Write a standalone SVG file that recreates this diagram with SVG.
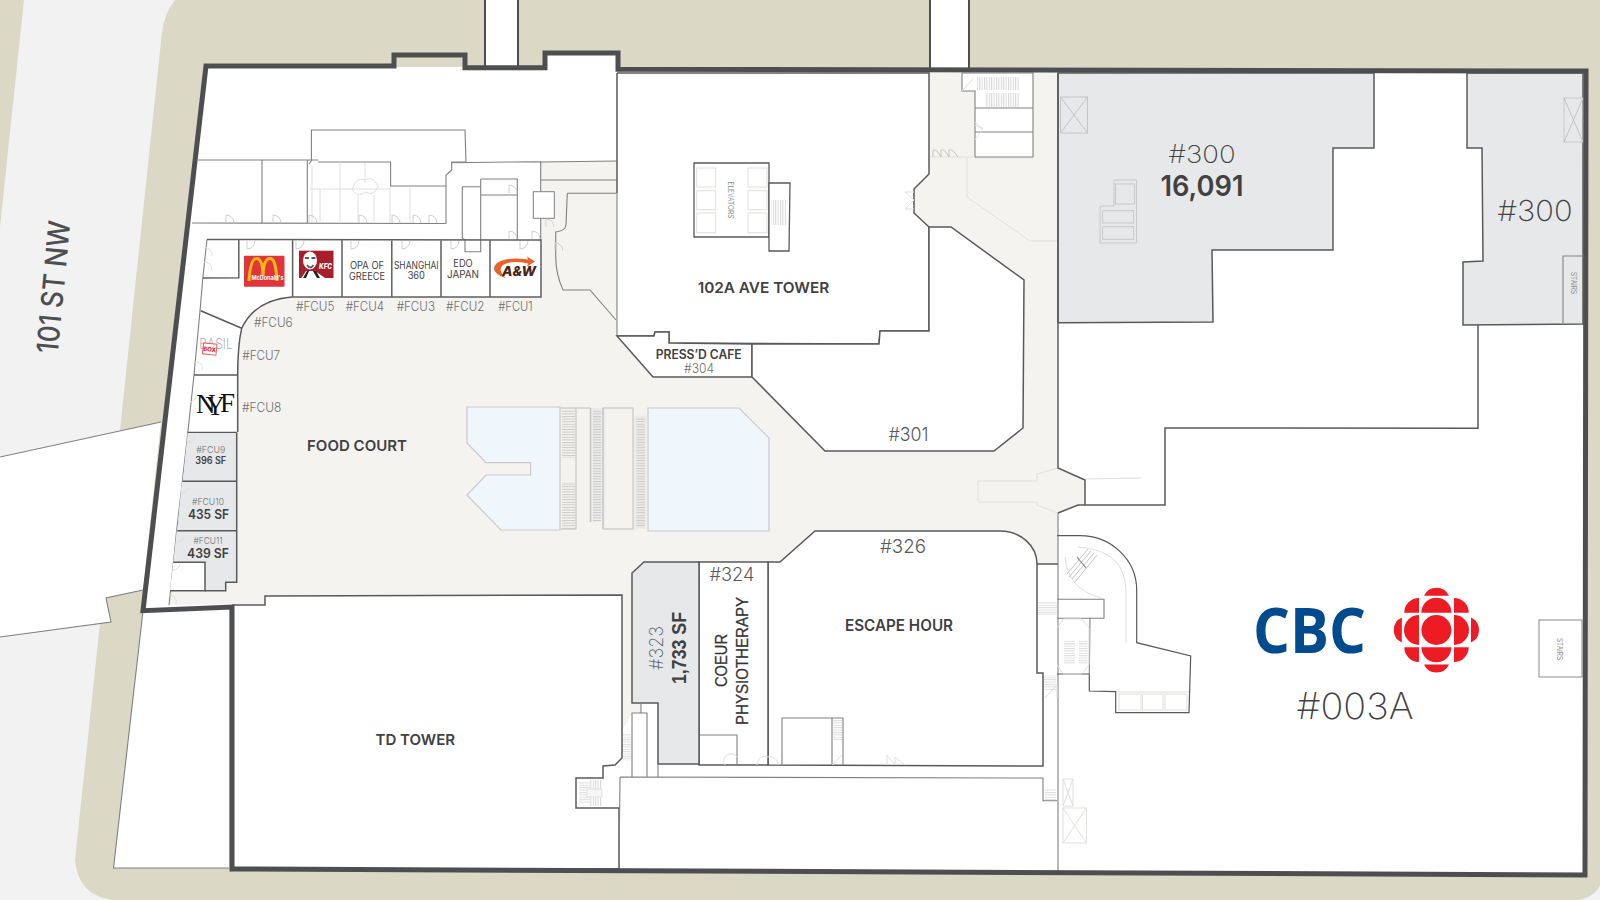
<svg xmlns="http://www.w3.org/2000/svg" width="1600" height="900" viewBox="0 0 1600 900">
<style>
.wall{fill:none;stroke:#58595b;stroke-width:1.5;stroke-linejoin:miter}
.room{fill:#fff;stroke:#58595b;stroke-width:1.5}
.thin{fill:none;stroke:#7f8082;stroke-width:1.1}
.lite{fill:none;stroke:#dfdfdc;stroke-width:1}
.mid{fill:none;stroke:#c4c4c4;stroke-width:1}
.lease{fill:#e7e8ea;stroke:#58595b;stroke-width:1.5}
.outer{fill:none;stroke:#4d4e50;stroke-width:5;stroke-linejoin:miter}
.pool{fill:#eff7fd;stroke:#c9c9c9;stroke-width:1.2}
text{font-family:"Inter","Liberation Sans",sans-serif;text-anchor:middle;fill:#4d4e50}
.name{font-weight:600;font-size:15px;fill:#414042}
.num{font-weight:200;fill:#414042}
.fcu{font-weight:300;font-size:13px;fill:#6d6e71}
.fcus{font-weight:300;font-size:9.5px;fill:#6d6e71}
.tiny{font-weight:400;font-size:10px;fill:#414042}
.sf{font-weight:600;fill:#414042}
.small{font-weight:400;font-size:7px;fill:#8a8a8a}
.gem{fill:#ed1c24}
.rot{font-family:"Liberation Sans",sans-serif;font-size:16px;fill:#333;stroke:#333;stroke-width:.25}
</style>
<defs>
<pattern id="hh" width="3" height="2.6" patternUnits="userSpaceOnUse"><rect width="3" height="1" fill="#c9c9c9"/></pattern>
<pattern id="hl" width="3" height="2.4" patternUnits="userSpaceOnUse"><rect width="3" height="1" fill="#dcdcdc"/></pattern>
<pattern id="vl" width="2.4" height="3" patternUnits="userSpaceOnUse"><rect width="1" height="3" fill="#d6d6d6"/></pattern>
<path id="dup" d="M0 0V-8A8 8 0 0 1 8 0" fill="none" stroke="#cfcfcf" stroke-width="1"/>
<path id="ddn" d="M0 0V8A8 8 0 0 0 8 0" fill="none" stroke="#cfcfcf" stroke-width="1"/>
</defs>

<g id="site">
<rect width="1600" height="900" fill="#f2f2f3"/>
<path d="M175 0H1600V885Q1595 897 1578 900H112Q78 895 75 860L100 623L120 430L162 32Q165 12 175 0Z" fill="#dbd8c6"/>
<path d="M0 0H24L0 227Z" fill="#dbd8c6"/>
<path d="M0 457L161 422L143 590L106 598L111 622L0 637Z" fill="#fff"/>
<path d="M0 457L161 422M143 590L106 598L111 622L0 637" class="thin"/>
<path d="M143 611L113.500 868H229V609Z" fill="#fff"/>
<path d="M143 611L113.500 868H229" class="thin"/>
<rect x="485" y="0" width="33" height="68" fill="#fff"/>
<rect x="930" y="0" width="39" height="70" fill="#fff"/>
<path d="M485 0V68M518 0V68M930 0V70M969 0V70" fill="none" stroke="#4d4e50" stroke-width="2"/>
</g>

<g id="building-floor">
<path d="M206 66H394V67H465H545V53H618V69L1586 71L1585 875L232 869V607L143 611Z" fill="#fff"/>
<rect x="396" y="58" width="67" height="9" fill="#dbd8c6"/>
<path d="M292 297H540.700V162L616.700 161V336L653 377H752L825 451H994L1023 428L1024 280L951 227H929L914 213V189L929 174V73H1057V468L1085 480V505H1078L1058 513V564H1037A37 33 0 0 0 1000 531H815L780 562H644L632 573V713L622 731V595L265 596V604L169 605L170.600 590.700H225.700V582.300H236.700V375Q237.700 345 241.700 328.300Q255 300 292 297Z" fill="#f4f3ef"/>
<path d="M632 703H641V713H632Z" fill="#f4f3ef"/>
<path d="M567.300 193.300H616.700M567.300 193.300L566 225Q565 231 555.700 232V257Q556 275 563 290H590L616 320" class="thin"/>
<path d="M540.700 180H616.700" class="thin"/>
<path d="M540.700 162L616.700 161" class="thin"/>
</g>

<g id="atrium">
<path d="M467 407H560V530H501L467 495L486 475H530.600V462.700H486L467 443Z" class="pool"/>
<path d="M648 408H739L769 438V531H648Z" class="pool"/>
<path d="M560.700 408H576V529H560.700M576 408H590" fill="none" stroke="#cfcfcf" stroke-width="1.500"/>
<rect x="562" y="409" width="13" height="49" fill="url(#hh)"/>
<rect x="562" y="482" width="13" height="47" fill="url(#hh)"/>
<rect x="590" y="408" width="13.300" height="114" fill="#ececea"/>
<rect x="593" y="409" width="8" height="112" fill="url(#hh)"/>
<path d="M590.500 408V522M603 408V529" fill="none" stroke="#c4c4c4" stroke-width="1.500"/>
<rect x="603.500" y="408" width="29.500" height="121" fill="#f4f3ef" stroke="#cfcfcf" stroke-width="1.500"/>
<rect x="634" y="415.700" width="13.300" height="113.300" fill="#ececea"/>
<rect x="636.500" y="417" width="8.500" height="111" fill="url(#hh)"/>
<path d="M978 481H1037V474L1058 468M978 481V502H1037V505L1058 513" class="lite"/>
<path d="M967 158V197L1030 241H1057" class="lite"/>
<path d="M1085 479L1141 478" class="lite"/>
</g>

<g id="tower-102a">
<path d="M617 73H929V174L914 189V213L929 227V331H880L879 344L669 343V332H655L654 336H617Z" fill="#fff"/>
<path d="M617 73H929V174L914 189V213L929 227V331H880L879 344L669 343V332H655L654 336H617" class="wall"/>
<path d="M617 73V193" class="wall"/>
<path d="M617 193V336" class="thin"/>
<path d="M694 163H769V237H694Z" class="room" style="stroke-width:1.300"/>
<path d="M769 183H790L789 251H769Z" class="room" style="stroke-width:1.300"/>
<g class="lite"><rect x="696.700" y="168" width="19" height="19"/><rect x="696.700" y="190.700" width="19" height="19"/><rect x="696.700" y="213" width="19" height="19.700"/><rect x="748" y="168" width="19" height="19"/><rect x="748" y="190.700" width="19" height="19"/><rect x="748" y="213" width="19" height="19.700"/></g>
<rect x="771" y="200" width="16" height="25" fill="url(#vl)"/>
<text class="small" transform="translate(727.500 200) rotate(90)" textLength="37" lengthAdjust="spacingAndGlyphs">ELEVATORS</text>
<path d="M905 192L914 200L905 209M905 192H914M905 209H914" class="lite"/>
<text class="name" x="763.500" y="293" textLength="131.700" lengthAdjust="spacingAndGlyphs">102A AVE TOWER</text>
</g>

<g id="unit-304">
<path d="M617 336H654L655 332H669V343L752 344V377H653Z" class="room"/>
<text class="name" style="font-size:12.500px" x="698.700" y="359" textLength="86" lengthAdjust="spacingAndGlyphs">PRESS’D CAFE</text>
<text style="font-size:13px;font-weight:300;fill:#6d6e71" x="699" y="372.700" textLength="30" lengthAdjust="spacingAndGlyphs">#304</text>
</g>

<g id="unit-301">
<path d="M752 344L879 344L880 331H929V227H951L1024 280L1023 428L994 451H825L752 377Z" class="room"/>
<text style="font-size:19px;font-weight:300;fill:#58595b" x="908.500" y="441" textLength="40" lengthAdjust="spacingAndGlyphs">#301</text>
</g>

<g id="core-north">
<path d="M975 73H1033V157H975V91H962V73Z" fill="#fff"/>
<path d="M975 73H1033V157H975V91H962V73Z" class="thin"/>
<path d="M975 108H1033M975 132H1033" class="thin"/>
<path d="M930 157H975" class="lite"/>
<rect x="977" y="77" width="42" height="13" fill="url(#vl)"/>
<rect x="985" y="93" width="34" height="14" fill="url(#vl)"/>
<path d="M962 91L973 79M975 122L983 129L975 140M975 125L983 129" class="lite"/>
<path d="M933 157V150Q936 148 941 157M941 157V150Q944 148 949 157M949 157V150Q952 148 958 157" class="mid"/>
</g>

<g id="unit-300-west">
<path d="M1058 73H1374V148H1333V250H1212L1213 322L1058 322.700Z" class="lease"/>
<rect x="1060.500" y="97" width="27" height="36" fill="none" stroke="#c4c4c4"/>
<path d="M1060.500 97L1087.500 133M1087.500 97L1060.500 133" class="mid"/>
<path d="M1114 180H1136.600V243H1100V206H1114Z" fill="none" stroke="#c8c8c8"/>
<rect x="1115.600" y="184" width="19" height="20" fill="none" stroke="#c8c8c8"/>
<rect x="1102.600" y="210.700" width="31" height="12.300" fill="none" stroke="#c8c8c8"/>
<rect x="1102.600" y="226.700" width="31" height="12.600" fill="none" stroke="#c8c8c8"/>
<text class="num" style="font-size:25px" x="1202" y="163" textLength="67" lengthAdjust="spacingAndGlyphs">#300</text>
<text class="sf" style="font-size:28px" x="1202" y="196" textLength="83" lengthAdjust="spacingAndGlyphs">16,091</text>
</g>

<g id="unit-300-east">
<path d="M1467 73V148H1482L1483 261L1463 262V325L1583 324V73Z" class="lease"/>
<rect x="1564" y="98" width="19" height="44" fill="none" stroke="#c8c8c8"/>
<path d="M1564 98L1583 142M1583 98L1564 142" class="mid"/>
<path d="M1583 256H1563V323" class="thin"/>
<text class="small" transform="translate(1571 283) rotate(90)" textLength="22" lengthAdjust="spacingAndGlyphs">STAIRS</text>
<text class="num" style="font-size:29px" x="1535" y="221" textLength="75" lengthAdjust="spacingAndGlyphs">#300</text>
</g>

<g id="walls-east">
<path d="M1058 73V468L1085 480V505H1165V428L1478 428.300V325" class="wall"/>
<path d="M1058 513V875" class="thin"/>
<path d="M1085 505H1078L1058 513" class="wall"/>
</g>

<g id="core-east">
<path d="M1057 535.700H1080A56.700 54.300 0 0 1 1136.700 590V642.700L1190.700 656L1189 712.700H1115.700V691.700L1089.300 691V674H1057" class="wall" style="stroke-width:1.200"/>
<path d="M1057 599.300H1104V618.300H1057M1090 618.300L1089.300 674" class="thin"/>
<path d="M1078 547Q1126 550 1126 592V643M1065 557Q1068 590 1101.700 598" class="lite"/>
<path d="M1067 574L1088 549M1069 577L1091 551M1072 579L1094 553M1075 582L1097 555" class="mid"/>
<path d="M1077 557L1086 568" class="thin"/>
<rect x="1119" y="694" width="22" height="16" class="lite"/>
<rect x="1142.500" y="694" width="20.500" height="16" class="lite"/>
<rect x="1165" y="694" width="22" height="16" class="lite"/>
<path d="M1117 692H1189" class="lite"/>
<rect x="1064" y="640" width="11" height="24" fill="url(#hl)"/>
<rect x="1079" y="640" width="8.500" height="24" fill="url(#hl)"/>
<path d="M1057 628L1063.500 619H1081.700L1089 628V665L1081.700 674H1063.500L1057 665" class="lite"/>
<rect x="1063" y="779" width="10" height="27" class="lite"/><path d="M1063 779L1073 806M1073 779L1063 806" class="lite"/>
<rect x="1063" y="808" width="23.400" height="35" class="lite"/><path d="M1063 808L1086.400 843M1086.400 808L1063 843" class="lite"/>
<rect x="1539" y="620" width="43" height="57" fill="#fff" stroke="#8a8a8a"/>
<text class="small" transform="translate(1557 649) rotate(90)" textLength="22" lengthAdjust="spacingAndGlyphs">STAIRS</text>
</g>

<g id="unit-003A">
<text style="font-family:'Open Sans','Liberation Sans',sans-serif;font-weight:700;font-size:62px;fill:#004b8d" x="1309.500" y="652.500" textLength="113" lengthAdjust="spacingAndGlyphs">CBC</text>
<g id="gem">
<circle class="gem" cx="1436.400" cy="630" r="15"/>
<path class="gem" d="M1421.400 612.700A15 15 0 0 1 1451.400 612.700Z"/>
<path class="gem" d="M1421.400 647.300A15 15 0 0 0 1451.400 647.300Z"/>
<path class="gem" d="M1419 615A15 15 0 0 0 1419 645Z"/>
<path class="gem" d="M1454 615A15 15 0 0 1 1454 645Z"/>
<path class="gem" d="M1454 598A14.700 14.700 0 0 1 1468.700 612.700H1454Z"/>
<path class="gem" d="M1419 598A14.700 14.700 0 0 0 1404.300 612.700H1419Z"/>
<path class="gem" d="M1454 662A14.700 14.700 0 0 0 1468.700 647.300H1454Z"/>
<path class="gem" d="M1419 662A14.700 14.700 0 0 1 1404.300 647.300H1419Z"/>
<path class="gem" d="M1424 595.700A13.750 13.750 0 0 1 1449 595.700Z"/>
<path class="gem" d="M1424 664.500A13.750 13.750 0 0 0 1449 664.500Z"/>
<path class="gem" d="M1401.800 617.500A13.750 13.750 0 0 0 1401.800 642.500Z"/>
<path class="gem" d="M1471 617.500A13.750 13.750 0 0 1 1471 642.500Z"/>
</g>
<text class="num" style="font-size:36px" x="1355" y="719" textLength="117" lengthAdjust="spacingAndGlyphs">#003A</text>
</g>

<g id="unit-326">
<path d="M768 562H780L815 531H1000A37 33 0 0 1 1037 564V673H1043V766L768 765Z" class="room"/>
<path d="M782 765V718H843V765M832 718V765" class="thin"/>
<rect x="833" y="720" width="9" height="20" fill="url(#hl)"/>
<path d="M832 765L842 755M887 765V755L895 765V757L905 765" class="lite"/>
<text style="font-size:19px;font-weight:300;fill:#58595b" x="903" y="553" textLength="46" lengthAdjust="spacingAndGlyphs">#326</text>
<text class="name" style="font-size:15.500px" x="899" y="631" textLength="108" lengthAdjust="spacingAndGlyphs">ESCAPE HOUR</text>
</g>

<g id="unit-324">
<path d="M699 562H768V765H699Z" class="room"/>
<path d="M699 735H737V765" class="thin"/>
<text style="font-size:18px;font-weight:300;fill:#58595b" x="732" y="581" textLength="45" lengthAdjust="spacingAndGlyphs">#324</text>
<text class="rot" transform="translate(726.700 660.500) rotate(-90)" textLength="53" lengthAdjust="spacingAndGlyphs">COEUR</text>
<text class="rot" transform="translate(747.700 661) rotate(-90)" textLength="128" lengthAdjust="spacingAndGlyphs">PHYSIOTHERAPY</text>
<path d="M725 765A7 7 0 0 1 737 757M757 765A8 8 0 0 1 768 757A8 8 0 0 1 778 765" class="lite"/>
</g>

<g id="unit-323">
<path d="M644 562H699V764H658V703H632V573Z" class="lease"/>
<text style="font-weight:200;font-size:19px;fill:#58595b" transform="translate(663 648) rotate(-90)" textLength="44" lengthAdjust="spacingAndGlyphs">#323</text>
<text style="font-family:'Liberation Sans',sans-serif;font-weight:700;font-size:20px;fill:#414042" transform="translate(686 648) rotate(-90)" textLength="72" lengthAdjust="spacingAndGlyphs">1,733 SF</text>
</g>

<g id="tower-td">
<path d="M233 605H265V596L622 595V758L615 765L603 766V778H576V808H619V869L232 869Z" class="room"/>
<rect x="579" y="782" width="11" height="22" fill="url(#hl)"/>
<rect x="590" y="780" width="12" height="9" fill="url(#vl)"/><rect x="590" y="797" width="12" height="9" fill="url(#vl)"/>
<rect x="587" y="789" width="15" height="8" fill="#f6f6f6" stroke="#e2e2e2"/>
<rect x="623" y="734" width="8" height="27" fill="url(#hl)"/>
<text class="name" x="415.300" y="745" textLength="79.600" lengthAdjust="spacingAndGlyphs">TD TOWER</text>
</g>

<g id="south-rooms">
<path d="M620 777L1043 778V800.700H1057M619 869L620 777" class="thin"/>
<path d="M632 777V713H647L647 777M641 703V713" class="thin"/>
<path d="M658 764V777" class="thin"/>
<path d="M1037 564H1058" class="wall"/>
<rect x="1045" y="789" width="11" height="11" fill="url(#hl)"/>
<rect x="1038" y="602" width="19" height="13" fill="url(#hl)"/>
<rect x="1044" y="675" width="12" height="15" fill="url(#hl)"/>
<path d="M1045 698L1057 685M1057 698V685" class="lite"/>
</g>

<g id="north-west-rooms">
<path d="M198 160H308M311.400 161V130H465L466 162H451.700V170L446 175V223.500L192 223" class="thin"/>
<path d="M262 160V223M307.300 160V223M309 164L311.400 161M318 162H390.600V186H446M451.700 162.700L540.700 161.700V240M480.700 179H517.300V240M480.700 179V240M480.700 195H517.300M462.300 186.700H480.700M462.300 186.700V238L465 240V251.700H480.700V240M308 160H318" class="thin"/>
<rect x="533.300" y="191.700" width="21" height="26.600" fill="#fff" stroke="#7f8082"/>
<path d="M340 162V223M365 163V183M410 187V223M310 189H390M320 189V223M358 195V223M374 195V223M390 187V223M312 166V223" class="lite"/>
<path d="M352 190Q356 176 365 180Q372 175 378 186Q374 197 366 192Q358 198 352 190Z" class="lite"/>
<use href="#dup" x="226" y="223"/><use href="#dup" x="273" y="223"/><use href="#dup" x="309" y="223"/><use href="#dup" x="359" y="223"/><use href="#dup" x="392" y="223"/><use href="#dup" x="413" y="223"/><use href="#dup" x="429" y="223"/><use href="#dup" x="509" y="193"/><use href="#dup" x="509" y="239"/><use href="#dup" x="532" y="239"/><use href="#dup" x="546" y="227"/><use href="#dup" x="555" y="251"/>
</g>

<g id="food-court-units">
<path d="M207 239.500L202.800 278L200 311L194 375L187.800 432.700L182.400 480.700L176.700 530L173.500 561.700L170.600 590L169 605" class="thin"/>
<path d="M207 239.500L541 240V297H292.600V240M342 240V297M391.800 240V297M441 240V297M490 240V297M238.800 240V277.700L203 278" class="wall" style="stroke:#5e5f61"/>
<path d="M292 297Q255 300 241.700 328.300Q237.700 345 237.700 375V432" class="wall"/>
<path d="M200.700 310.700L241.700 328.300M194 375H237.700M187.700 432.500H236.700" class="wall"/>
<path d="M187.700 433H236.700V481H182.700Z" fill="#e7e8ea"/>
<path d="M181.700 481.700H236.700V530.700H177.300Z" fill="#e7e8ea"/>
<path d="M176.700 530.700H236.700V582.300H225.700V590.700H205V562.300H173.300Z" fill="#e7e8ea"/>
<path d="M182.700 481.300H236.700M177.300 530.700H236.700V582.300H225.700V590.700H205M236.700 432.500V530.700" class="wall"/>
<path d="M173.300 562.300H205V590.700H170Z" fill="#fff"/>
<path d="M173.300 562.300H205V590.700H170" class="wall"/>
<use href="#ddn" x="247" y="241"/><use href="#ddn" x="296" y="241"/><use href="#ddn" x="351" y="241"/><use href="#ddn" x="402" y="241"/><use href="#ddn" x="451" y="241"/><use href="#ddn" x="520" y="241"/>
<path d="M204 247A8 8 0 0 1 212 256M204 262A8 8 0 0 1 212 270M195 362A6 6 0 0 1 202 370M190 402A6 6 0 0 0 196 396M187 442A7 7 0 0 0 195 437M182 493A7 7 0 0 0 188 488M178 542A7 7 0 0 0 184 536M173 570A7 7 0 0 0 180 564M170 595A7 7 0 0 1 176 604" class="lite"/>
<g id="mcdonalds">
<rect x="244" y="255.700" width="40.500" height="31" rx="1" fill="#e1343b"/>
<path d="M249 281C250 264 253 258.500 256.700 258.500C261 258.500 262.700 266 263 276C263.300 266 265.500 258.500 270 258.500C274 258.500 276 264 277 281" fill="none" stroke="#fdb813" stroke-width="3"/>
<text style="font-weight:700;font-size:6px;fill:#fff" x="267.500" y="279.500" textLength="32" lengthAdjust="spacingAndGlyphs">McDonald's</text>
</g>
<g id="kfc">
<rect x="299" y="250.700" width="34.500" height="27.300" fill="#a91e2b"/>
<path d="M300 280L306 271H315L328 280Z" fill="#fff"/>
<path d="M303 278L307 271H309L306 278ZM313 271H316L320 278H317Z" fill="#1d1d1b"/>
<ellipse cx="310" cy="260.500" rx="7" ry="9" fill="#fff"/>
<path d="M305 258H309M311.500 258H315.500" fill="none" stroke="#222" stroke-width="1.400"/>
<path d="M307 265Q310.300 270 313.500 265" fill="none" stroke="#555" stroke-width="1.500"/>
<text style="font-weight:800;font-style:italic;font-size:8px;fill:#fff" x="325.500" y="269" textLength="13" lengthAdjust="spacingAndGlyphs">KFC</text>
</g>
<text class="tiny" x="367" y="268.700" textLength="34" lengthAdjust="spacingAndGlyphs">OPA OF</text>
<text class="tiny" x="367" y="279.700" textLength="36" lengthAdjust="spacingAndGlyphs">GREECE</text>
<text class="tiny" x="416.300" y="268.700" textLength="44.700" lengthAdjust="spacingAndGlyphs">SHANGHAI</text>
<text class="tiny" x="416.300" y="279.200" textLength="17.300" lengthAdjust="spacingAndGlyphs">360</text>
<text class="tiny" x="463" y="267" textLength="19.300" lengthAdjust="spacingAndGlyphs">EDO</text>
<text class="tiny" x="463" y="278" textLength="32" lengthAdjust="spacingAndGlyphs">JAPAN</text>
<g id="aw">
<path d="M535 261.500L527 256.500L528 259.500Q505 256 496 264Q489 272 506 278.500Q497 270 503 265Q511 260 528 263.500L527 266.500Z" fill="#e8622a"/>
<text style="font-weight:800;font-style:italic;font-size:12.500px;fill:#4a2314" x="519" y="276" textLength="34" lengthAdjust="spacingAndGlyphs">A&amp;W</text>
</g>
<g class="labels">
<text class="fcu" x="315.200" y="311" textLength="38.300" lengthAdjust="spacingAndGlyphs">#FCU5</text>
<text class="fcu" x="364.800" y="311" textLength="38.300" lengthAdjust="spacingAndGlyphs">#FCU4</text>
<text class="fcu" x="415.800" y="311" textLength="38.300" lengthAdjust="spacingAndGlyphs">#FCU3</text>
<text class="fcu" x="465.200" y="311" textLength="38.300" lengthAdjust="spacingAndGlyphs">#FCU2</text>
<text class="fcu" x="515.500" y="311" textLength="34.400" lengthAdjust="spacingAndGlyphs">#FCU1</text>
<text class="fcu" x="273.300" y="326.700" textLength="38.700" lengthAdjust="spacingAndGlyphs">#FCU6</text>
<text class="fcu" x="261.200" y="360" textLength="37.700" lengthAdjust="spacingAndGlyphs">#FCU7</text>
<text class="fcu" x="261.700" y="412.300" textLength="39.300" lengthAdjust="spacingAndGlyphs">#FCU8</text>
</g>
<text style="font-weight:300;font-size:14px;fill:#b5b5b5" x="216" y="349.300" textLength="33.400" lengthAdjust="spacingAndGlyphs">BASIL</text>
<g id="box" transform="rotate(6 209.700 349)">
<rect x="203" y="343.500" width="13.500" height="11" fill="#fff" stroke="#ee5a60"/>
<text style="font-weight:800;font-size:6px;fill:#e3262e" x="209.700" y="351.500">BOX</text>
</g>
<text id="nyf" x="196 205.500 220" y="413 415 412" style="font-family:'Liberation Serif',serif;font-size:27px;fill:#111;text-anchor:start">NYF</text>
<text class="fcus" x="210.700" y="452.700" textLength="29" lengthAdjust="spacingAndGlyphs">#FCU9</text>
<text class="sf" style="font-size:10px" x="210.700" y="463.700" textLength="31" lengthAdjust="spacingAndGlyphs">396 SF</text>
<text class="fcus" x="208" y="504.700" textLength="32" lengthAdjust="spacingAndGlyphs">#FCU10</text>
<text class="sf" style="font-size:13px" x="208.500" y="519" textLength="41" lengthAdjust="spacingAndGlyphs">435 SF</text>
<text class="fcus" x="208" y="543.700" textLength="29" lengthAdjust="spacingAndGlyphs">#FCU11</text>
<text class="sf" style="font-size:13px" x="208" y="558.300" textLength="42" lengthAdjust="spacingAndGlyphs">439 SF</text>
<text class="name" x="357" y="451" textLength="100" lengthAdjust="spacingAndGlyphs">FOOD COURT</text>
</g>

<g id="outer-wall">
<path d="M206 66H394V55H465V67.700H545V53H618V69.300L1586 71L1585 875L232 869V607L143 610.700Z" class="outer"/>
</g>

<text id="street" style="font-weight:500;font-size:30px;fill:#4d4e50" transform="translate(64 288) rotate(-84.500)" textLength="133" lengthAdjust="spacingAndGlyphs">101 ST NW</text>
</svg>
